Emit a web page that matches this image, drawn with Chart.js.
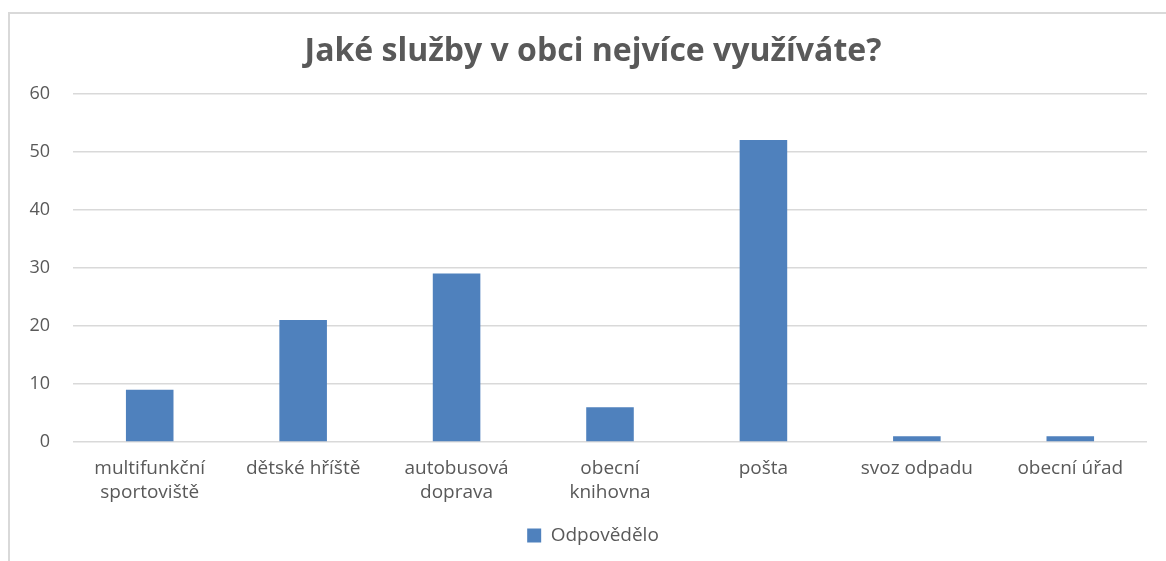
<!DOCTYPE html>
<html>
<head>
<meta charset="utf-8">
<script src="https://cdn.jsdelivr.net/npm/chart.js@4"></script>
<style>
  html, body { margin: 0; padding: 0; background: #fff; overflow: hidden; }
  #ramecek {
    position: absolute; left: 8px; top: 12px;
    width: 1170px; height: 560px;
    border-left: 2px solid #d9d9d9; border-top: 2px solid #d9d9d9;
  }
  #graf { display: block; }
</style>
</head>
<body>
<div id="ramecek"><canvas id="graf" width="1166" height="547"></canvas></div>
<script>
// Data z grafu
var sluzby = [
  ['multifunkční', 'sportoviště'],
  'dětské hříště',
  ['autobusová', 'doprava'],
  ['obecní', 'knihovna'],
  'pošta',
  'svoz odpadu',
  'obecní úřad'
];
var odpovedelo = [9, 21, 29, 6, 52, 1, 1];
var osaY = [0, 10, 20, 30, 40, 50, 60];

var barva = '#4F81BD';
var textBarva = '#595959';
var pismo = "'Open Sans', sans-serif";

var ctx = document.getElementById('graf');

var graf = new Chart(ctx, {
  type: 'bar',
  data: {
    labels: sluzby,
    datasets: [{
      label: 'Odpovědělo',
      data: odpovedelo,
      backgroundColor: barva,
      borderWidth: 0,
      categoryPercentage: 1,
      barPercentage: 0.31
    }]
  },
  options: {
    responsive: false,
    animation: false,
    layout: { padding: { left: 0, right: 0, top: 0, bottom: 6 } },
    plugins: {
      title: {
        display: true,
        text: 'Jaké služby v obci nejvíce využíváte?',
        color: textBarva,
        font: { family: pismo, size: 32, weight: 'bold' },
        padding: { top: 19, bottom: 22 }
      },
      legend: {
        position: 'bottom',
        labels: {
          color: textBarva,
          font: { family: pismo, size: 19 },
          boxWidth: 14,
          boxHeight: 14,
          padding: 14
        }
      },
      tooltip: { enabled: false }
    },
    scales: {
      x: {
        grid: { display: false },
        border: { display: false },
        ticks: {
          color: textBarva,
          font: { family: pismo, size: 19, lineHeight: 1.26 },
          padding: 7,
          maxRotation: 0,
          autoSkip: false
        }
      },
      y: {
        min: 0,
        max: 60,
        afterFit: function(scale) { scale.width = 63; },
        afterBuildTicks: function(scale) {
          scale.ticks = osaY.map(function(v) { return { value: v }; });
        },
        grid: { color: '#d9d9d9', lineWidth: 1.5, drawTicks: false },
        border: { display: false },
        ticks: {
          color: textBarva,
          font: { family: pismo, size: 18 },
          padding: 23
        }
      },
      // prázdná osa vpravo jen jako okraj, nadpis zůstane uprostřed
      okraj: {
        position: 'right',
        afterFit: function(scale) { scale.width = 29; },
        grid: { display: false },
        border: { display: false },
        ticks: { display: false }
      }
    }
  }
});
</script>
</body>
</html>
